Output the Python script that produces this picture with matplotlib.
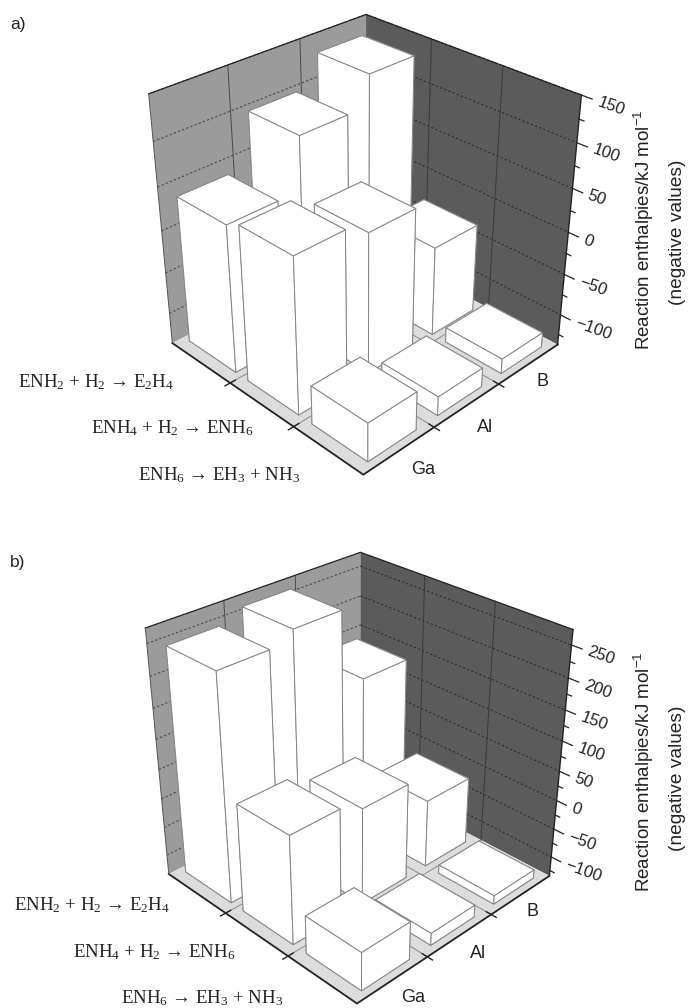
import matplotlib
matplotlib.use('Agg')
import matplotlib.pyplot as plt
from mpl_toolkits.mplot3d import proj3d
from mpl_toolkits.mplot3d.art3d import Poly3DCollection

W = 696
H = 1008

plt.rcParams['font.family'] = ['Liberation Sans', 'DejaVu Sans']
plt.rcParams['mathtext.default'] = 'regular'

reactions = ['ENH$_2$ + H$_2$ \u2192 E$_2$H$_4$',
             'ENH$_4$ + H$_2$ \u2192 ENH$_6$',
             'ENH$_6$ \u2192 EH$_3$ + NH$_3$']
elements = ['Ga', 'Al', 'B']

# rows = reaction, columns = Ga, Al, B
values_a = [[37, 98, 133],
            [45, 29, -30],
            [-92, -115, -120]]
values_b = [[244, 261, 137],
            [49, 30, -18],
            [-70, -114, -120]]

ticks_a = [-100, -50, 0, 50, 100, 150]
ticks_b = [-100, -50, 0, 50, 100, 150, 200, 250]
minor_a = [-125, -75, -25, 25, 75, 125]
minor_b = [-125, -75, -25, 25, 75, 125, 175, 225]
zlim_a = (-138, 150)
zlim_b = (-135, 273)


def panel(rect, view, zlim, values, ticks, minor):
    left, bottom, side = rect
    ax = fig.add_axes([left / W, bottom / H, side / W, side / H], projection='3d')
    ax.computed_zorder = False
    ax.set_axis_off()
    ax.patch.set_alpha(0)
    ax.view_init(elev=view[0], azim=view[1])
    ax.set_proj_type('persp', focal_length=view[2])
    ax.set_box_aspect((1, 1, view[3]))
    z0, z1 = zlim

    # walls and floor
    ax.add_collection3d(Poly3DCollection([[(0, 0, z0), (0, 3, z0), (0, 3, z1), (0, 0, z1)]],
                                         facecolor='#9b9b9b', edgecolor='none', zorder=1))
    ax.add_collection3d(Poly3DCollection([[(0, 3, z0), (3, 3, z0), (3, 3, z1), (0, 3, z1)]],
                                         facecolor='#5b5b5b', edgecolor='none', zorder=1))
    ax.add_collection3d(Poly3DCollection([[(0, 0, z0), (3, 0, z0), (3, 3, z0), (0, 3, z0)]],
                                         facecolor='#dcdcdc', edgecolor='none', zorder=1))

    # grid on walls
    for t in ticks:
        ax.plot([0, 0], [0, 3], [t, t], color='#4a4a4a', ls=(0, (2, 2)), lw=0.8, zorder=2)
        ax.plot([0, 3], [3, 3], [t, t], color='#2e2e2e', ls=(0, (2, 2)), lw=0.8, zorder=2)
    for p in [1, 2]:
        ax.plot([0, 0], [p, p], [z0, z1], color='#4a4a4a', lw=0.7, zorder=2)
        ax.plot([p, p], [3, 3], [z0, z1], color='#3a3a3a', lw=0.7, zorder=2)
        ax.plot([0, 3], [p, p], [z0, z0], color='#8a8a8a', lw=0.7, zorder=2)
        ax.plot([p, p], [0, 3], [z0, z0], color='#8a8a8a', lw=0.7, zorder=2)

    # box edges
    ax.plot([0, 0, 3], [0, 3, 3], [z1, z1, z1], color='#222222', lw=0.9, zorder=3)
    ax.plot([0, 3, 3], [0, 0, 3], [z0, z0, z0], color='#222222', lw=1.3, zorder=3)
    ax.plot([3, 3], [3, 3], [z0, z1], color='#222222', lw=1.0, zorder=3)
    ax.plot([0, 0], [0, 0], [z0, z1], color='#555555', lw=0.7, zorder=3)

    # z ticks
    for t in ticks:
        ax.plot([3, 3.13], [3, 3], [t, t], color='#222222', lw=0.9, zorder=3)
    for t in minor:
        ax.plot([3, 3.06], [3, 3], [t, t], color='#222222', lw=0.9, zorder=3)

    # floor ticks
    for p in [1, 2]:
        ax.plot([p, p], [-0.07, 0.07], [z0, z0], color='#222222', lw=1.0, zorder=3)
        ax.plot([2.93, 3.07], [p, p], [z0, z0], color='#222222', lw=1.0, zorder=3)

    # bars back to front
    order = 10
    for i in range(3):
        for j in [2, 1, 0]:
            ax.bar3d(i + 0.10, j + 0.16, z0, 0.80, 0.68, values[i][j] - z0, color='white',
                     edgecolor='#858585', linewidth=0.7, shade=False, zorder=order)
            order += 1

    ax.set_xlim(0, 3)
    ax.set_ylim(0, 3)
    ax.set_zlim(z0, z1)

    # slanted z tick labels, Text3D ignores rotation so go through the projection
    m = ax.get_proj()
    for t in ticks:
        px, py, _ = proj3d.proj_transform(3.2, 3, t, m)
        ax.text2D(px, py, str(t).replace('-', '\u2212'), transform=ax.transData,
                  fontsize=12, color='#222222', rotation=-20,
                  rotation_mode='anchor', ha='left', va='center')
    return ax


def px_text(x, y, s, **kw):
    fig.text(x / W, 1 - y / H, s, **kw)


fig = plt.figure(figsize=(W / 100, H / 100), dpi=100)

panel((115.6, 532.4, 485.3), (30.806, -44.619, 0.487, 1.004), zlim_a, values_a, ticks_a, minor_a)
panel((113.2, 3.3, 478.4), (30.215, -44.511, 0.474, 0.997), zlim_b, values_b, ticks_b, minor_b)

serif = ['Liberation Serif', 'DejaVu Serif']
px_text(18, 24, 'a)', fontsize=12.5, ha='center', va='center', color='#222222')
px_text(18, 563, 'b)', fontsize=12.5, ha='center', va='center', color='#222222')

for s, x, y in zip(reactions, [174, 253, 300], [382, 428, 475]):
    px_text(x, y, s, fontsize=13.6, family=serif, ha='right', va='center', color='#222222')
for s, x, y in zip(reactions, [170, 235, 283], [905, 952, 998]):
    px_text(x, y, s, fontsize=13.6, family=serif, ha='right', va='center', color='#222222')

for s, x, y in zip(elements, [423, 485, 542], [470, 427, 382]):
    px_text(x, y, s, fontsize=13, ha='center', va='center', color='#222222')
for s, x, y in zip(elements, [413, 478, 533], [997, 953, 912]):
    px_text(x, y, s, fontsize=13, ha='center', va='center', color='#222222')

ylabel = 'Reaction enthalpies/kJ mol$^{-1}$'
px_text(644, 230, ylabel, fontsize=13.5, rotation=90, ha='center', va='center', color='#222222')
px_text(678, 232, '(negative values)', fontsize=13.8, rotation=90, ha='center', va='center', color='#222222')
px_text(644, 772, ylabel, fontsize=13.5, rotation=90, ha='center', va='center', color='#222222')
px_text(678, 778, '(negative values)', fontsize=13.8, rotation=90, ha='center', va='center', color='#222222')

fig.savefig('out.png', dpi=100)
